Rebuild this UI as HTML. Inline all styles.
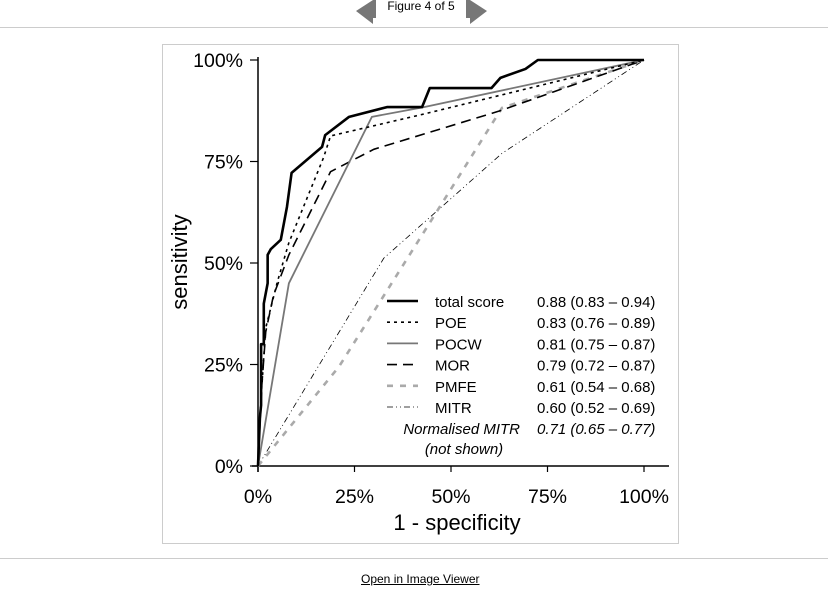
<!DOCTYPE html>
<html><head><meta charset="utf-8"><style>
body{margin:0;width:828px;height:595px;background:#fff;font-family:"Liberation Sans",Arial,sans-serif;position:relative;overflow:hidden}
.abs{position:absolute}
</style></head><body>
<div class="abs" style="left:0;top:0;width:828px;height:28px">
<svg width="828" height="28" style="position:absolute;left:0;top:0">
<polygon points="356,11 373,0 376,0 376,18 373,18 373,24" fill="#777"/>
<polygon points="487,11 470,0 466,0 466,18 470,18 470,24" fill="#777"/>
<rect x="376" y="0" width="90" height="20" fill="#fff"/>
<line x1="0" y1="27.5" x2="828" y2="27.5" stroke="#ccc"/>
</svg>
<div class="abs" style="left:375px;top:-1px;width:92px;text-align:center;font-size:12px">Figure 4 of 5</div>
</div>
<div class="abs" style="left:162px;top:44px;width:515px;height:498px;border:1px solid #ccc"></div>
<svg id="chart" class="abs" style="left:0;top:0" width="828" height="595"></svg>
<div class="abs" style="left:0;top:558px;width:828px;border-top:1px solid #ccc"></div>
<a class="abs" style="left:361px;top:572px;font-size:12px;color:#000;text-decoration:underline">Open in Image Viewer</a>
<script>
const xTicks=[0,25,50,75,100];
const yTicks=[0,25,50,75,100];
const seriesNames=["total score","POE","POCW","MOR","PMFE","MITR"];
const aucLabels=["0.88 (0.83 – 0.94)","0.83 (0.76 – 0.89)","0.81 (0.75 – 0.87)","0.79 (0.72 – 0.87)","0.61 (0.54 – 0.68)","0.60 (0.52 – 0.69)"];
const totalFpr=[0,0.5,0.8,0.8,1.5,1.5,2.5,2.5,3.3,5.9,7.5,8.7,16.6,17.4,23.6,33.4,42.5,44.5,60.5,62.8,69.3,72.5,100];
const totalTpr=[0,12,15,30,30,40,45,52,53.4,55.7,63.8,72.2,78.6,81.5,86,88.4,88.4,93.1,93.1,95.6,97.8,100,100];
const poeFpr=[0,0.3,2,5,8,17,18.8,43,100];
const poeTpr=[0,9.6,34,45.3,55,76,81.3,86.7,100];
const pocwFpr=[0,8,29.5,43,100];
const pocwTpr=[0,45,86,88.4,100];
const morFpr=[0,1,2,4,8,18.8,30,62.4,100];
const morTpr=[0,20,33,42,52,72.5,78,87.4,100];
const pmfeFpr=[0,21,39,63.2,100];
const pmfeTpr=[0,24.5,51.6,88.2,100];
const mitrFpr=[0,32.6,63.2,100];
const mitrTpr=[0,51.2,77,100];
const X=v=>258+v*3.86, Y=v=>466-v*4.06;
const svg=document.getElementById('chart'),NS="http://www.w3.org/2000/svg";
function mk(t,a,txt){const e=document.createElementNS(NS,t);for(const k in a)e.setAttribute(k,a[k]);if(txt!=null)e.textContent=txt;svg.appendChild(e);return e;}
let e=mk('line',{x1:252,y1:466,x2:669,y2:466,stroke:'#000','stroke-width':1.5});


e=mk('line',{x1:258,y1:57,x2:258,y2:472,stroke:'#000','stroke-width':1.5});


xTicks.forEach(v=>{mk('line',{x1:X(v),y1:466,x2:X(v),y2:472,stroke:'#000','stroke-width':1.2});
e=mk('text',{x:X(v),y:503,'text-anchor':'middle','font-size':19.5},v+'%');

});
yTicks.forEach(v=>{mk('line',{x1:250,y1:Y(v),x2:258,y2:Y(v),stroke:'#000','stroke-width':1.2});
e=mk('text',{x:243,y:Y(v)+7,'text-anchor':'end','font-size':19.5},v+'%');

});
e=mk('text',{x:457,y:530,'text-anchor':'middle','font-size':22},'1 - specificity');


e=mk('text',{x:187,y:262,'text-anchor':'middle','font-size':22,transform:'rotate(-90 187 262)'},'sensitivity');


const styles=[{s:'#000',w:2.6,d:''},{s:'#000',w:1.6,d:'3 4'},{s:'#777',w:1.8,d:''},{s:'#000',w:1.6,d:'10 6'},{s:'#aaa',w:2.6,d:'6 7'},{s:'#000',w:0.8,d:'6 3 1 3 1 3'}];
const data=[[totalFpr,totalTpr],[poeFpr,poeTpr],[pocwFpr,pocwTpr],[morFpr,morTpr],[pmfeFpr,pmfeTpr],[mitrFpr,mitrTpr]];
const order=[5,4,3,2,1,0];
order.forEach(i=>{const [fx,ty]=data[i];const st=styles[i];
e=mk('polyline',{points:fx.map((v,j)=>X(v)+','+Y(ty[j])).join(' '),fill:'none',stroke:st.s,'stroke-width':st.w,'stroke-dasharray':st.d,'stroke-linejoin':'round'});

});
seriesNames.forEach((n,i)=>{const y=301+i*21.2,st=styles[i];
e=mk('line',{x1:387,y1:y,x2:418,y2:y,stroke:st.s,'stroke-width':st.w,'stroke-dasharray':st.d});


e=mk('text',{x:435,y:y+6,'font-size':15},n);


e=mk('text',{x:537,y:y+6,'font-size':15},aucLabels[i]);

});
e=mk('text',{x:520,y:434,'text-anchor':'end','font-size':15,'font-style':'italic'},'Normalised MITR');


e=mk('text',{x:537,y:434,'font-size':15,'font-style':'italic'},'0.71 (0.65 – 0.77)');


e=mk('text',{x:464,y:454,'text-anchor':'middle','font-size':15,'font-style':'italic'},'(not shown)');


</script>
</body></html>
